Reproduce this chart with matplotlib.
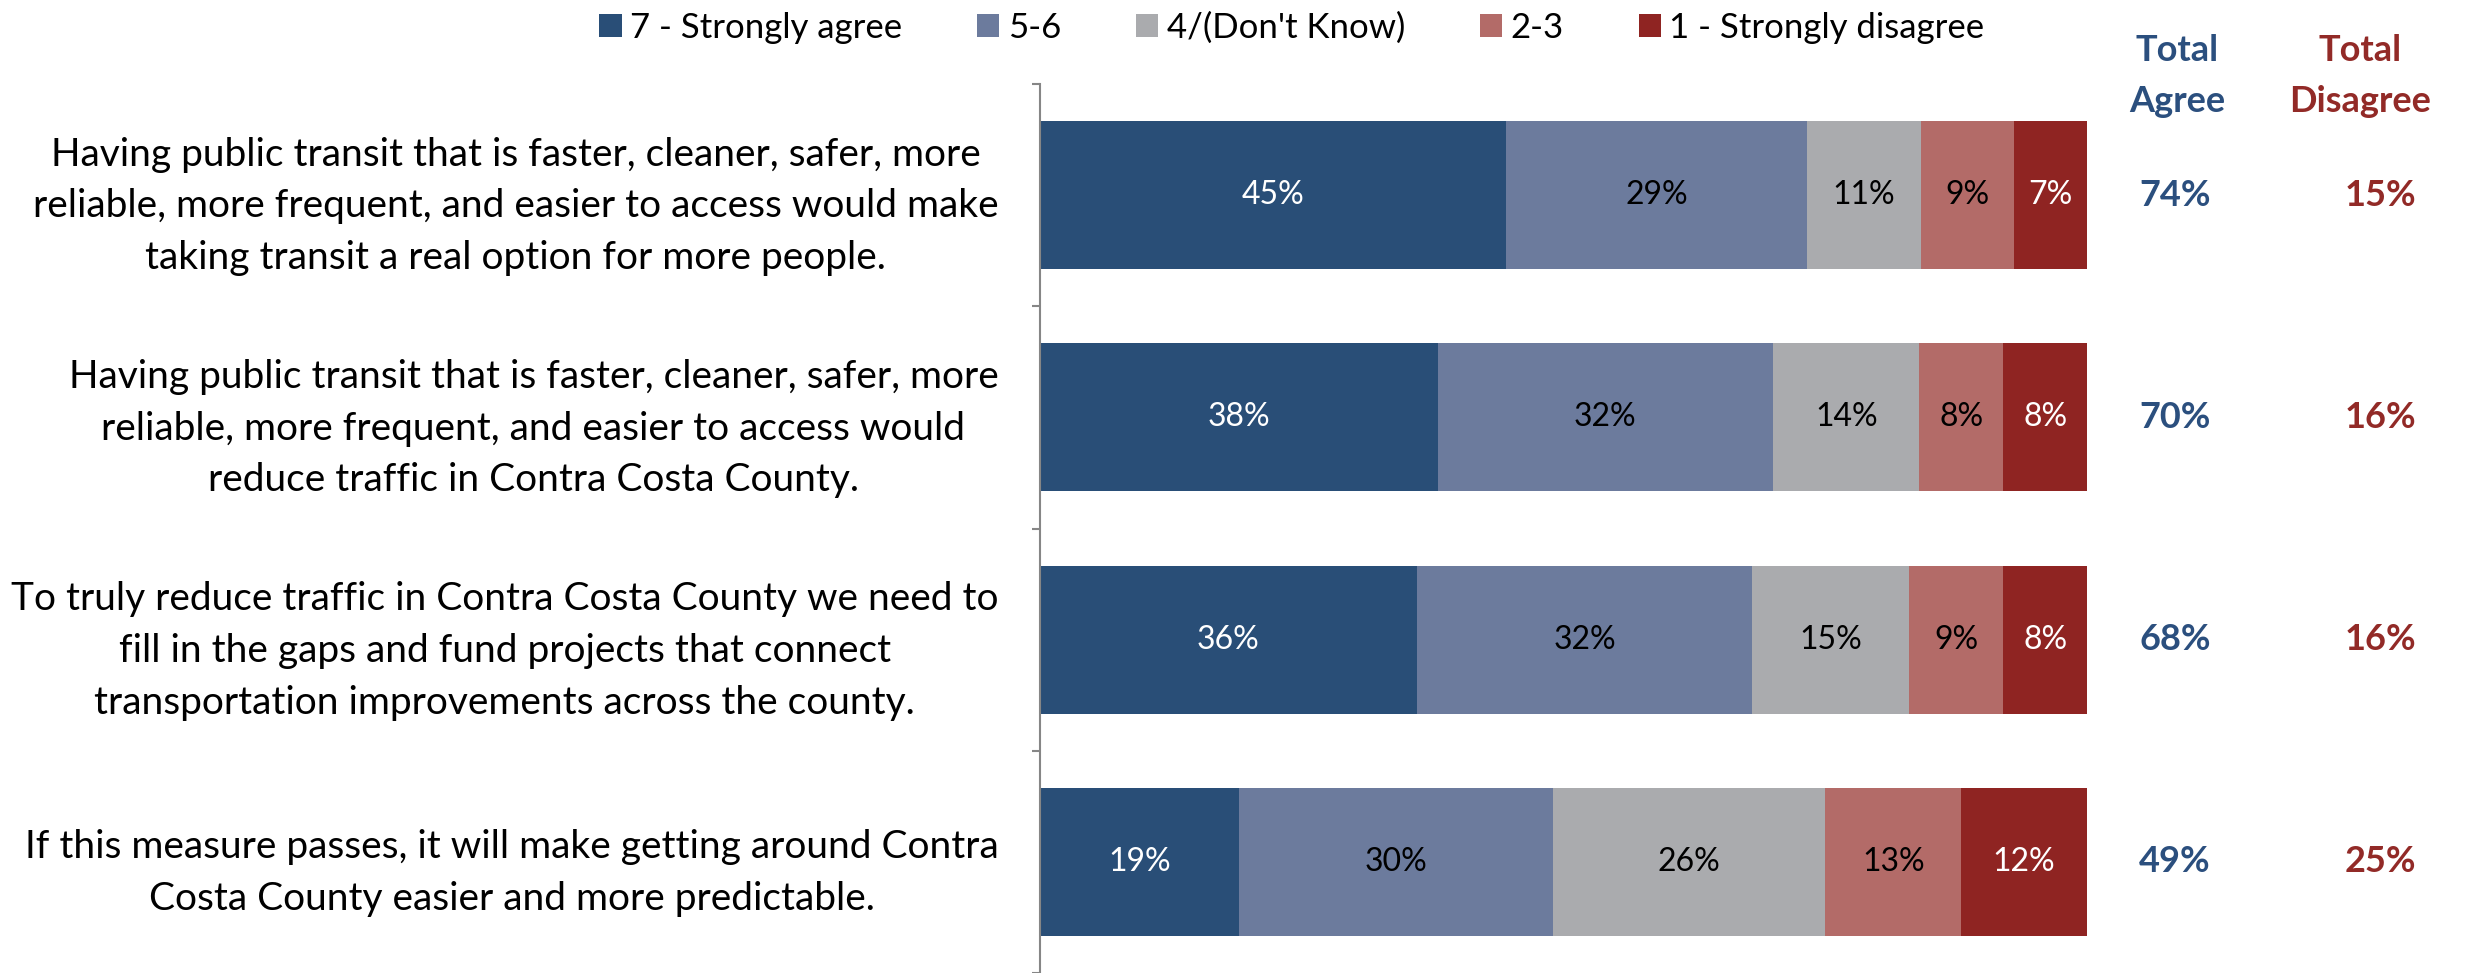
import matplotlib
matplotlib.use("Agg")
import matplotlib.pyplot as plt
from matplotlib.patches import Patch
import numpy as np

plt.rcParams['font.family'] = ['Lato', 'DejaVu Sans']

categories = [
    "Having public transit that is faster, cleaner, safer, more\nreliable, more frequent, and easier to access would make\ntaking transit a real option for more people.",
    "Having public transit that is faster, cleaner, safer, more\nreliable, more frequent, and easier to access would\nreduce traffic in Contra Costa County.",
    "To truly reduce traffic in Contra Costa County we need to\nfill in the gaps and fund projects that connect\ntransportation improvements across the county.",
    "If this measure passes, it will make getting around Contra\nCosta County easier and more predictable.",
]
series_names = ["7 - Strongly agree", "5-6", "4/(Don't Know)", "2-3", "1 - Strongly disagree"]
strongly_agree = [45, 38, 36, 19]
agree_5_6 = [29, 32, 32, 30]
dont_know = [11, 14, 15, 26]
disagree_2_3 = [9, 8, 9, 13]
strongly_disagree = [7, 8, 8, 12]
total_agree = [74, 70, 68, 49]
total_disagree = [15, 16, 16, 25]

colors = ["#294E77", "#6C7B9D", "#AAABAE", "#B36B68", "#8F2422"]
label_colors = ["white", "black", "black", "black", "white"]
agree_color = "#2B4F7E"
disagree_color = "#922A27"

W, H = 2483, 973
fig = plt.figure(figsize=(W / 100, H / 100), dpi=100)
ax = fig.add_axes([1040 / W, 0, (2087 - 1040) / W, (973 - 84) / H])

data = np.array([strongly_agree, agree_5_6, dont_know, disagree_2_3, strongly_disagree], dtype=float)
shares = data / data.sum(axis=0) * 100
y = np.arange(len(categories))
left = np.zeros(len(categories))
for i in range(len(series_names)):
    bars = ax.barh(y, shares[i], left=left, height=0.667, color=colors[i],
                   label=series_names[i], edgecolor='none')
    ax.bar_label(bars, labels=[f"{int(v)}%" for v in data[i]], label_type='center',
                 color=label_colors[i], fontsize=23)
    left += shares[i]

ax.set_xlim(0, 100)
ax.set_ylim(len(categories) - 0.5, -0.5)
for s in ['top', 'right', 'bottom']:
    ax.spines[s].set_visible(False)
ax.spines['left'].set_color('#868686')
ax.spines['left'].set_linewidth(1.5)
ax.set_xticks([])
ax.set_yticks(y, categories)
ax.tick_params(axis='y', which='major', length=0, pad=30, labelsize=28)
for t in ax.get_yticklabels():
    t.set_multialignment('center')
    t.set_linespacing(1.54)
ax.set_yticks(np.arange(len(categories) + 1) - 0.5, minor=True)
ax.tick_params(axis='y', which='minor', length=6, width=1.5, color='#868686', direction='out')

x_agree = (2175 - 1040) / (2087 - 1040) * 100
x_dis = (2380 - 1040) / (2087 - 1040) * 100
for yi, a, d in zip(y, total_agree, total_disagree):
    ax.text(x_agree, yi, f"{a}%", ha='center', va='center', color=agree_color,
            fontsize=26, fontweight='bold', clip_on=False)
    ax.text(x_dis, yi, f"{d}%", ha='center', va='center', color=disagree_color,
            fontsize=26, fontweight='bold', clip_on=False)

fig.text(2177 / W, 1 - 76 / H, "Total\nAgree", ha='center', va='center', color=agree_color,
         fontsize=26, fontweight='bold', linespacing=1.65)
fig.text(2360 / W, 1 - 76 / H, "Total\nDisagree", ha='center', va='center', color=disagree_color,
         fontsize=26, fontweight='bold', linespacing=1.65)

handles = [Patch(facecolor=c, edgecolor='none') for c in colors]
fig.legend(handles, series_names, loc='center', bbox_to_anchor=(1292 / W, 1 - 28 / H),
           ncol=5, frameon=False, fontsize=25, handlelength=0.64, handleheight=0.64,
           handletextpad=0.25, columnspacing=2.15, borderpad=0.1)

fig.savefig("out.png", dpi=100)
